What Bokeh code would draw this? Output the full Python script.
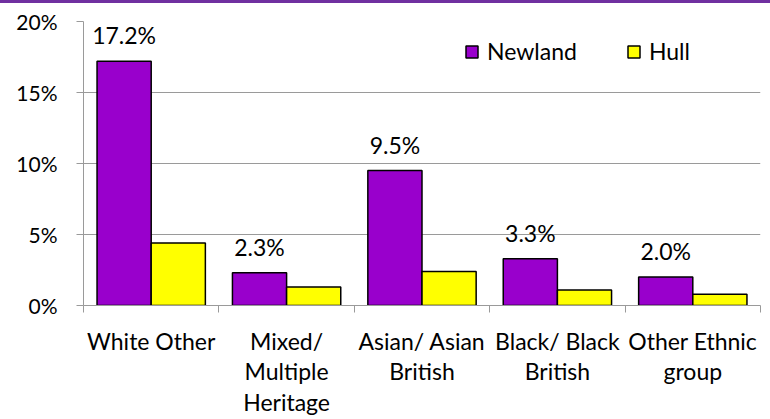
from bokeh.plotting import figure
from bokeh.layouts import column
from bokeh.models import ColumnDataSource, FixedTicker, Range1d, Legend, LegendItem, LabelSet, Div
from bokeh.core.properties import value
from bokeh.embed import file_html
from bokeh.resources import INLINE

categories = ["White Other", "Mixed/\nMultiple\nHeritage", "Asian/ Asian\nBritish", "Black/ Black\nBritish", "Other Ethnic\ngroup"]
newland = [17.2, 2.3, 9.5, 3.3, 2.0]
hull = [4.4, 1.3, 2.4, 1.1, 0.8]
newland_labels = ["17.2%", "2.3%", "9.5%", "3.3%", "2.0%"]
y_ticks = [0, 5, 10, 15, 20]
y_tick_labels = ["0%", "5%", "10%", "15%", "20%"]

FONT = "Lato"
PURPLE = "#9900CC"
YELLOW = "#FFFF00"
GRID = "#9A9A9A"
BAND = "#7030A0"

idx = list(range(len(categories)))
src = ColumnDataSource(dict(
    xn=[i + 0.3 for i in idx],
    xh=[i + 0.7 for i in idx],
    newland=newland,
    hull=hull,
    lab=newland_labels,
))

band = Div(text="", width=770, height=3, margin=(0, 0, 0, 0),
           styles={"background-color": BAND})

p = figure(width=770, height=416, output_backend="svg", toolbar_location=None,
           x_range=Range1d(0, len(categories)), y_range=Range1d(0, 20),
           min_border_left=83, min_border_right=10, min_border_top=18, min_border_bottom=113)
p.margin = (0, 0, 0, 0)
p.outline_line_color = None
p.background_fill_color = "white"
p.border_fill_color = "white"

rn = p.vbar(x="xn", top="newland", width=0.4, source=src, fill_color=PURPLE,
            line_color="black", line_width=1.5)
rh = p.vbar(x="xh", top="hull", width=0.4, source=src, fill_color=YELLOW,
            line_color="black", line_width=1.5)

labels = LabelSet(x="xn", y="newland", text="lab", source=src, text_align="center",
                  text_baseline="alphabetic", y_offset=17, text_font=value(FONT),
                  text_font_size="23px", text_color="black")
p.add_layout(labels)

# y axis
p.yaxis.ticker = FixedTicker(ticks=y_ticks)
p.yaxis.major_label_overrides = {t: l for t, l in zip(y_ticks, y_tick_labels)}
p.yaxis.minor_tick_line_color = None
p.yaxis.major_tick_out = 7
p.yaxis.major_tick_in = 0
p.yaxis.major_tick_line_color = GRID
p.yaxis.axis_line_color = GRID
p.yaxis.major_label_standoff = 19
p.yaxis.major_label_text_font = FONT
p.yaxis.major_label_text_font_size = "21px"
p.yaxis.major_label_text_color = "black"

# x axis: labels at category centres, ticks at category boundaries
centers = [i + 0.5 for i in idx]
bounds = list(range(len(categories) + 1))
p.xaxis.ticker = FixedTicker(ticks=centers, minor_ticks=bounds)
p.xaxis.major_label_overrides = {c: l for c, l in zip(centers, categories)}
p.xaxis.major_tick_line_color = None
p.xaxis.major_tick_out = 7
p.xaxis.major_tick_in = 0
p.xaxis.minor_tick_line_color = GRID
p.xaxis.minor_tick_out = 7
p.xaxis.minor_tick_in = 0
p.xaxis.axis_line_color = GRID
p.xaxis.major_label_standoff = 14
p.xaxis.major_label_text_font = FONT
p.xaxis.major_label_text_font_size = "23px"
p.xaxis.major_label_text_line_height = 1.1
p.xaxis.major_label_text_color = "black"

p.xgrid.grid_line_color = None
p.ygrid.ticker = FixedTicker(ticks=y_ticks)
p.ygrid.grid_line_color = GRID
p.ygrid.grid_line_width = 1

legend = Legend(items=[LegendItem(label="Newland", renderers=[rn]),
                       LegendItem(label="Hull", renderers=[rh])],
                orientation="horizontal", location=(381, 240))
legend.border_line_color = None
legend.background_fill_alpha = 0
legend.padding = 0
legend.margin = 0
legend.spacing = 49
legend.glyph_width = 15
legend.glyph_height = 15
legend.label_standoff = 8
legend.label_text_font = FONT
legend.label_text_font_size = "23px"
legend.label_text_color = "black"
p.add_layout(legend, "center")

layout = column(band, p, spacing=0, margin=(0, 0, 0, 0))

open("out.html", "w").write(file_html(layout, INLINE))
